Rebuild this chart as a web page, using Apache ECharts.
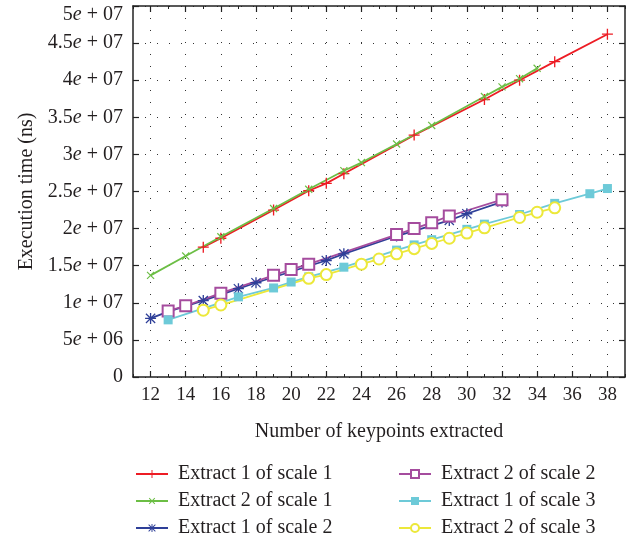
<!DOCTYPE html>
<html>
<head>
<meta charset="utf-8">
<script src="https://cdn.jsdelivr.net/npm/echarts@6/dist/echarts.min.js"></script>
<style>html,body{margin:0;padding:0;background:#fff}#c{width:635px;height:539px}</style>
</head>
<body>
<div id="c"></div>
<script>
// ---- data (y values in units of 1e6 ns) ----
const seriesNames = ["Extract 1 of scale 1","Extract 2 of scale 1","Extract 1 of scale 2","Extract 2 of scale 2","Extract 1 of scale 3","Extract 2 of scale 3"];
const x_e1s1 = [15,16,19,21,22,23,27,31,33,35,38];
const y_e1s1 = [17.5,18.7,22.5,25.1,26.1,27.4,32.6,37.4,40.0,42.5,46.2];
const x_e2s1 = [12,14,16,19,21,23,24,26,28,31,32,33,34];
const y_e2s1 = [13.7,16.3,18.9,22.7,25.3,27.8,28.9,31.4,33.9,37.8,39.1,40.2,41.6];
const x_e1s2 = [12,13,15,17,18,22,23,26,29,30,32];
const y_e1s2 = [7.9,8.8,10.3,11.9,12.7,15.7,16.6,19.0,21.1,22.0,23.6];
const x_e2s2 = [13,14,16,19,20,21,26,27,28,29,32];
const y_e2s2 = [8.9,9.6,11.3,13.7,14.5,15.2,19.2,20.0,20.8,21.7,23.9];
const x_e1s3 = [13,17,19,20,21,23,26,27,28,30,31,33,35,37,38];
const y_e1s3 = [7.7,10.8,12.0,12.8,13.5,14.8,17.1,17.8,18.5,19.9,20.6,21.9,23.4,24.7,25.4];
const x_e2s3 = [15,16,21,22,24,25,26,27,28,29,30,31,33,34,35];
const y_e2s3 = [9.0,9.7,13.3,13.8,15.2,15.9,16.6,17.3,18.0,18.7,19.4,20.1,21.5,22.2,22.8];
const xTickLabels = [12,14,16,18,20,22,24,26,28,30,32,34,36,38];
const yScale = 1e6;

// ---- styles ----
const FONT = 'Liberation Serif';
const TXT = '#231f20';
const colors = ['#ed1c24','#6cbe45','#2e3f98','#a54c9e','#6dcad8','#ece83a'];
const PLUS = 'path://M4.4,0h1.2v10h-1.2z M0,4.4h10v1.2h-10z';
const STAR = 'path://M4.4,0h1.2v10h-1.2z M0,4.4h10v1.2h-10z M1.2,0.4L9.6,8.8L8.8,9.6L0.4,1.2z M8.8,0.4L9.6,1.2L1.2,9.6L0.4,8.8z';
const symbols = [PLUS, PLUS, STAR, 'emptyRect', 'rect', 'emptyCircle'];
const symRot = [0, 45, 0, 0, 0, 0];
const symSize = [11, 10, 11, 11, 9, 11];
const xs = [x_e1s1,x_e2s1,x_e1s2,x_e2s2,x_e1s3,x_e2s3];
const ys = [y_e1s1,y_e2s1,y_e1s2,y_e2s2,y_e1s3,y_e2s3];

function pairs(a, b){ return a.map((v,i)=>[v, b[i]*yScale]); }

function yFmt(v){
  if (v === 0) return '0';
  const e = Math.floor(Math.log10(v) + 1e-9);
  const m = +(v / Math.pow(10, e)).toFixed(2);
  const es = (e < 10 ? '0' : '') + e;
  if (v >= 5e7) return '{t|' + m + '}{ti|e}{t| + ' + es + '}';
  return m + '{i|e} + ' + es;
}

const grid = {left: 133, right: 10, top: 6, bottom: 162};
const dotted = {show: true, lineStyle: {color: '#333', width: 1, type: [1, 11]}};
const axisLineStyle = {show: true, lineStyle: {color: '#222', width: 1.5}};

function xAx(pos, major){
  return {
    type: 'value', position: pos, min: 11, max: 39, interval: 1,
    axisLine: major ? Object.assign({onZero:false}, axisLineStyle) : {show:false, onZero:false},
    axisTick: major ? {show: true, inside: true, length: 6, lineStyle: {color:'#222', width: 1.2}, customValues: xTickLabels}
                    : {show: true, inside: true, length: 3, lineStyle: {color:'#222', width: 1}},
    axisLabel: (major && pos === 'bottom') ? {show: true, customValues: xTickLabels, margin: 9, color: TXT, fontFamily: FONT, fontSize: 19}
                    : {show: false},
    splitLine: (major && pos === 'bottom') ? dotted : {show: false},
    name: (major && pos === 'bottom') ? 'Number of keypoints extracted' : '',
    nameLocation: 'middle', nameGap: 45,
    nameTextStyle: {color: TXT, fontFamily: FONT, fontSize: 20}
  };
}

const option = {
  animation: false,
  backgroundColor: '#fff',
  grid: grid,
  xAxis: [xAx('bottom', true), xAx('bottom', false), xAx('top', true), xAx('top', false)],
  yAxis: [
    {type: 'value', position: 'left', min: 0, max: 5e7, interval: 5e6,
     axisLine: axisLineStyle,
     axisTick: {show: true, inside: true, length: 6, lineStyle: {color:'#222', width: 1.2}},
     axisLabel: {show: true, margin: 10, color: TXT, fontFamily: FONT, fontSize: 20, formatter: yFmt,
       rich: {i: {fontStyle: 'italic', fontFamily: FONT, fontSize: 20, color: TXT},
              t: {fontFamily: FONT, fontSize: 20, color: TXT, padding: [18,0,0,0]},
              ti: {fontStyle: 'italic', fontFamily: FONT, fontSize: 20, color: TXT, padding: [18,0,0,0]}}},
     splitLine: dotted,
     name: 'Execution time (ns)', nameLocation: 'middle', nameGap: 95,
     nameTextStyle: {color: TXT, fontFamily: FONT, fontSize: 20}},
    {type: 'value', position: 'right', min: 0, max: 5e7, interval: 5e6,
     axisLine: axisLineStyle,
     axisTick: {show: true, inside: true, length: 6, lineStyle: {color:'#222', width: 1.2}},
     axisLabel: {show: false}, splitLine: {show: false}}
  ],
  legend: [
    {data: seriesNames.slice(0,3), orient: 'vertical', left: 135, top: 464, padding: 0,
     itemWidth: 32, itemHeight: 10, itemGap: 7,
     textStyle: {color: TXT, fontFamily: FONT, fontSize: 20, padding: [0,0,0,5]}},
    {data: seriesNames.slice(3), orient: 'vertical', left: 398, top: 464, padding: 0,
     itemWidth: 32, itemHeight: 10, itemGap: 7,
     textStyle: {color: TXT, fontFamily: FONT, fontSize: 20, padding: [0,0,0,5]}}
  ],
  series: seriesNames.map((n, k) => ({
    name: n, type: 'line', xAxisIndex: 0, yAxisIndex: 0,
    data: pairs(xs[k], ys[k]),
    symbol: symbols[k], symbolSize: symSize[k], symbolRotate: symRot[k],
    showAllSymbol: true,
    lineStyle: {color: colors[k], width: 1.8},
    itemStyle: {color: colors[k], borderColor: colors[k], borderWidth: (k===3||k===5) ? 1.6 : 0},
    emphasis: {disabled: true}
  }))
};

echarts.init(document.getElementById('c'), null, {renderer: 'canvas'}).setOption(option);
</script>
</body>
</html>
